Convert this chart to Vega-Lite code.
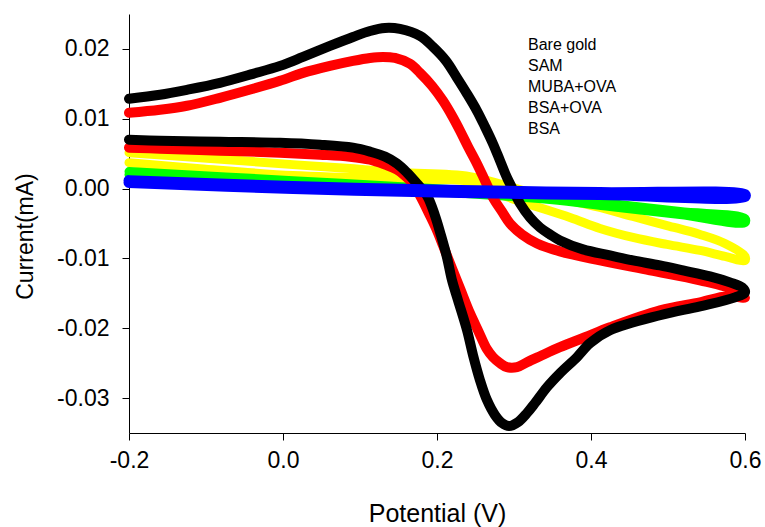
{
  "$schema": "https://vega.github.io/schema/vega-lite/v6.json",
  "width": 616,
  "height": 419,
  "autosize": {"type": "none"},
  "padding": {"left": 129, "top": 14, "right": 20, "bottom": 94},
  "background": "white",
  "config": {
    "view": {"stroke": null},
    "font": "Liberation Sans",
    "locale": {"number": {"decimal": ".", "thousands": ",", "grouping": [3], "currency": ["$", ""], "minus": "-"}},
    "axis": {
      "grid": false,
      "domainColor": "#000000",
      "domainWidth": 1,
      "tickColor": "#000000",
      "tickWidth": 1,
      "tickSize": 7,
      "labelColor": "#000000",
      "labelFontSize": 23,
      "labelFlush": false,
      "labelOverlap": false,
      "titleColor": "#000000",
      "titleFontSize": 23,
      "titleFontWeight": "normal"
    }
  },
  "data": {
    "values": [
      {"S": "Bare gold", "k": 0, "V": -0.2, "I": 0.01286},
      {"S": "Bare gold", "k": 1, "V": -0.1597, "I": 0.01343},
      {"S": "Bare gold", "k": 2, "V": -0.1247, "I": 0.01414},
      {"S": "Bare gold", "k": 3, "V": -0.0818, "I": 0.01514},
      {"S": "Bare gold", "k": 4, "V": -0.039, "I": 0.01643},
      {"S": "Bare gold", "k": 5, "V": -0.0039, "I": 0.01757},
      {"S": "Bare gold", "k": 6, "V": 0.026, "I": 0.01886},
      {"S": "Bare gold", "k": 7, "V": 0.061, "I": 0.02043},
      {"S": "Bare gold", "k": 8, "V": 0.0909, "I": 0.02171},
      {"S": "Bare gold", "k": 9, "V": 0.113, "I": 0.02257},
      {"S": "Bare gold", "k": 10, "V": 0.1325, "I": 0.023},
      {"S": "Bare gold", "k": 11, "V": 0.1519, "I": 0.02286},
      {"S": "Bare gold", "k": 12, "V": 0.1779, "I": 0.02186},
      {"S": "Bare gold", "k": 13, "V": 0.1948, "I": 0.02029},
      {"S": "Bare gold", "k": 14, "V": 0.2117, "I": 0.01829},
      {"S": "Bare gold", "k": 15, "V": 0.226, "I": 0.01586},
      {"S": "Bare gold", "k": 16, "V": 0.239, "I": 0.01357},
      {"S": "Bare gold", "k": 17, "V": 0.2519, "I": 0.01114},
      {"S": "Bare gold", "k": 18, "V": 0.2623, "I": 0.00886},
      {"S": "Bare gold", "k": 19, "V": 0.2727, "I": 0.00643},
      {"S": "Bare gold", "k": 20, "V": 0.2818, "I": 0.004},
      {"S": "Bare gold", "k": 21, "V": 0.2909, "I": 0.00157},
      {"S": "Bare gold", "k": 22, "V": 0.3, "I": -0.00043},
      {"S": "Bare gold", "k": 23, "V": 0.3078, "I": -0.00214},
      {"S": "Bare gold", "k": 24, "V": 0.3208, "I": -0.00414},
      {"S": "Bare gold", "k": 25, "V": 0.3338, "I": -0.00557},
      {"S": "Bare gold", "k": 26, "V": 0.3468, "I": -0.00657},
      {"S": "Bare gold", "k": 27, "V": 0.3597, "I": -0.00743},
      {"S": "Bare gold", "k": 28, "V": 0.3896, "I": -0.00871},
      {"S": "Bare gold", "k": 29, "V": 0.4247, "I": -0.00957},
      {"S": "Bare gold", "k": 30, "V": 0.4545, "I": -0.01029},
      {"S": "Bare gold", "k": 31, "V": 0.4896, "I": -0.011},
      {"S": "Bare gold", "k": 32, "V": 0.5195, "I": -0.01171},
      {"S": "Bare gold", "k": 33, "V": 0.5545, "I": -0.01257},
      {"S": "Bare gold", "k": 34, "V": 0.5805, "I": -0.01343},
      {"S": "Bare gold", "k": 35, "V": 0.5961, "I": -0.01414},
      {"S": "Bare gold", "k": 36, "V": 0.6, "I": -0.01486},
      {"S": "Bare gold", "k": 37, "V": 0.587, "I": -0.01557},
      {"S": "Bare gold", "k": 38, "V": 0.5416, "I": -0.01686},
      {"S": "Bare gold", "k": 39, "V": 0.4896, "I": -0.01814},
      {"S": "Bare gold", "k": 40, "V": 0.4247, "I": -0.02029},
      {"S": "Bare gold", "k": 41, "V": 0.3987, "I": -0.02214},
      {"S": "Bare gold", "k": 42, "V": 0.3818, "I": -0.02414},
      {"S": "Bare gold", "k": 43, "V": 0.3597, "I": -0.02643},
      {"S": "Bare gold", "k": 44, "V": 0.3429, "I": -0.02843},
      {"S": "Bare gold", "k": 45, "V": 0.3273, "I": -0.03071},
      {"S": "Bare gold", "k": 46, "V": 0.3169, "I": -0.03214},
      {"S": "Bare gold", "k": 47, "V": 0.3052, "I": -0.03343},
      {"S": "Bare gold", "k": 48, "V": 0.2935, "I": -0.034},
      {"S": "Bare gold", "k": 49, "V": 0.2844, "I": -0.03357},
      {"S": "Bare gold", "k": 50, "V": 0.2753, "I": -0.03243},
      {"S": "Bare gold", "k": 51, "V": 0.2649, "I": -0.03029},
      {"S": "Bare gold", "k": 52, "V": 0.2558, "I": -0.02743},
      {"S": "Bare gold", "k": 53, "V": 0.2468, "I": -0.02386},
      {"S": "Bare gold", "k": 54, "V": 0.239, "I": -0.02029},
      {"S": "Bare gold", "k": 55, "V": 0.2273, "I": -0.016},
      {"S": "Bare gold", "k": 56, "V": 0.2195, "I": -0.01314},
      {"S": "Bare gold", "k": 57, "V": 0.213, "I": -0.00986},
      {"S": "Bare gold", "k": 58, "V": 0.2052, "I": -0.00671},
      {"S": "Bare gold", "k": 59, "V": 0.1974, "I": -0.00386},
      {"S": "Bare gold", "k": 60, "V": 0.187, "I": -0.001},
      {"S": "Bare gold", "k": 61, "V": 0.174, "I": 0.00071},
      {"S": "Bare gold", "k": 62, "V": 0.161, "I": 0.00229},
      {"S": "Bare gold", "k": 63, "V": 0.1481, "I": 0.00357},
      {"S": "Bare gold", "k": 64, "V": 0.1325, "I": 0.00457},
      {"S": "Bare gold", "k": 65, "V": 0.113, "I": 0.00529},
      {"S": "Bare gold", "k": 66, "V": 0.0909, "I": 0.00586},
      {"S": "Bare gold", "k": 67, "V": 0.0481, "I": 0.00629},
      {"S": "Bare gold", "k": 68, "V": -0.0039, "I": 0.00657},
      {"S": "Bare gold", "k": 69, "V": -0.0818, "I": 0.00671},
      {"S": "Bare gold", "k": 70, "V": -0.1597, "I": 0.00686},
      {"S": "Bare gold", "k": 71, "V": -0.2, "I": 0.007},

      {"S": "SAM", "k": 0, "V": -0.2, "I": 0.01086},
      {"S": "SAM", "k": 1, "V": -0.1597, "I": 0.01129},
      {"S": "SAM", "k": 2, "V": -0.1247, "I": 0.01186},
      {"S": "SAM", "k": 3, "V": -0.0818, "I": 0.013},
      {"S": "SAM", "k": 4, "V": -0.039, "I": 0.01429},
      {"S": "SAM", "k": 5, "V": -0.0039, "I": 0.01543},
      {"S": "SAM", "k": 6, "V": 0.026, "I": 0.01657},
      {"S": "SAM", "k": 7, "V": 0.061, "I": 0.01757},
      {"S": "SAM", "k": 8, "V": 0.0909, "I": 0.01829},
      {"S": "SAM", "k": 9, "V": 0.113, "I": 0.01871},
      {"S": "SAM", "k": 10, "V": 0.1299, "I": 0.01886},
      {"S": "SAM", "k": 11, "V": 0.1455, "I": 0.01871},
      {"S": "SAM", "k": 12, "V": 0.1649, "I": 0.01786},
      {"S": "SAM", "k": 13, "V": 0.1779, "I": 0.01657},
      {"S": "SAM", "k": 14, "V": 0.1935, "I": 0.01471},
      {"S": "SAM", "k": 15, "V": 0.2078, "I": 0.01257},
      {"S": "SAM", "k": 16, "V": 0.2195, "I": 0.01043},
      {"S": "SAM", "k": 17, "V": 0.2299, "I": 0.00829},
      {"S": "SAM", "k": 18, "V": 0.2403, "I": 0.006},
      {"S": "SAM", "k": 19, "V": 0.2519, "I": 0.00357},
      {"S": "SAM", "k": 20, "V": 0.2623, "I": 0.00114},
      {"S": "SAM", "k": 21, "V": 0.2727, "I": -0.00129},
      {"S": "SAM", "k": 22, "V": 0.2844, "I": -0.00329},
      {"S": "SAM", "k": 23, "V": 0.2948, "I": -0.005},
      {"S": "SAM", "k": 24, "V": 0.3104, "I": -0.00657},
      {"S": "SAM", "k": 25, "V": 0.3299, "I": -0.00786},
      {"S": "SAM", "k": 26, "V": 0.3597, "I": -0.009},
      {"S": "SAM", "k": 27, "V": 0.4117, "I": -0.01029},
      {"S": "SAM", "k": 28, "V": 0.4766, "I": -0.01171},
      {"S": "SAM", "k": 29, "V": 0.5416, "I": -0.01314},
      {"S": "SAM", "k": 30, "V": 0.5844, "I": -0.01443},
      {"S": "SAM", "k": 31, "V": 0.6, "I": -0.01557},
      {"S": "SAM", "k": 32, "V": 0.5766, "I": -0.01543},
      {"S": "SAM", "k": 33, "V": 0.5416, "I": -0.01629},
      {"S": "SAM", "k": 34, "V": 0.4896, "I": -0.01743},
      {"S": "SAM", "k": 35, "V": 0.4247, "I": -0.01986},
      {"S": "SAM", "k": 36, "V": 0.3922, "I": -0.02129},
      {"S": "SAM", "k": 37, "V": 0.3597, "I": -0.02271},
      {"S": "SAM", "k": 38, "V": 0.3338, "I": -0.024},
      {"S": "SAM", "k": 39, "V": 0.3169, "I": -0.02486},
      {"S": "SAM", "k": 40, "V": 0.3039, "I": -0.02557},
      {"S": "SAM", "k": 41, "V": 0.2909, "I": -0.02557},
      {"S": "SAM", "k": 42, "V": 0.2818, "I": -0.025},
      {"S": "SAM", "k": 43, "V": 0.2727, "I": -0.02414},
      {"S": "SAM", "k": 44, "V": 0.2649, "I": -0.023},
      {"S": "SAM", "k": 45, "V": 0.2532, "I": -0.02029},
      {"S": "SAM", "k": 46, "V": 0.2429, "I": -0.01786},
      {"S": "SAM", "k": 47, "V": 0.2299, "I": -0.01429},
      {"S": "SAM", "k": 48, "V": 0.2169, "I": -0.01071},
      {"S": "SAM", "k": 49, "V": 0.2078, "I": -0.00814},
      {"S": "SAM", "k": 50, "V": 0.2, "I": -0.006},
      {"S": "SAM", "k": 51, "V": 0.1909, "I": -0.00386},
      {"S": "SAM", "k": 52, "V": 0.1779, "I": -0.001},
      {"S": "SAM", "k": 53, "V": 0.1675, "I": 0.00086},
      {"S": "SAM", "k": 54, "V": 0.1584, "I": 0.00186},
      {"S": "SAM", "k": 55, "V": 0.1481, "I": 0.00271},
      {"S": "SAM", "k": 56, "V": 0.1325, "I": 0.00343},
      {"S": "SAM", "k": 57, "V": 0.113, "I": 0.00414},
      {"S": "SAM", "k": 58, "V": 0.087, "I": 0.00457},
      {"S": "SAM", "k": 59, "V": 0.0481, "I": 0.00486},
      {"S": "SAM", "k": 60, "V": -0.0039, "I": 0.00514},
      {"S": "SAM", "k": 61, "V": -0.0818, "I": 0.00543},
      {"S": "SAM", "k": 62, "V": -0.1597, "I": 0.00571},
      {"S": "SAM", "k": 63, "V": -0.2, "I": 0.00586},

      {"S": "MUBA+OVA", "k": 0, "V": -0.2, "I": 0.00514},
      {"S": "MUBA+OVA", "k": 1, "V": -0.1078, "I": 0.00443},
      {"S": "MUBA+OVA", "k": 2, "V": 0.013, "I": 0.00343},
      {"S": "MUBA+OVA", "k": 3, "V": 0.087, "I": 0.00286},
      {"S": "MUBA+OVA", "k": 4, "V": 0.1519, "I": 0.00229},
      {"S": "MUBA+OVA", "k": 5, "V": 0.2429, "I": 0.00171},
      {"S": "MUBA+OVA", "k": 6, "V": 0.3169, "I": -0.00043},
      {"S": "MUBA+OVA", "k": 7, "V": 0.3727, "I": -0.00171},
      {"S": "MUBA+OVA", "k": 8, "V": 0.4117, "I": -0.00271},
      {"S": "MUBA+OVA", "k": 9, "V": 0.4545, "I": -0.004},
      {"S": "MUBA+OVA", "k": 10, "V": 0.4987, "I": -0.00529},
      {"S": "MUBA+OVA", "k": 11, "V": 0.5416, "I": -0.00657},
      {"S": "MUBA+OVA", "k": 12, "V": 0.574, "I": -0.00786},
      {"S": "MUBA+OVA", "k": 13, "V": 0.6, "I": -0.00971},
      {"S": "MUBA+OVA", "k": 14, "V": 0.6, "I": -0.01029},
      {"S": "MUBA+OVA", "k": 15, "V": 0.574, "I": -0.00971},
      {"S": "MUBA+OVA", "k": 16, "V": 0.5416, "I": -0.00886},
      {"S": "MUBA+OVA", "k": 17, "V": 0.4987, "I": -0.008},
      {"S": "MUBA+OVA", "k": 18, "V": 0.4545, "I": -0.007},
      {"S": "MUBA+OVA", "k": 19, "V": 0.4117, "I": -0.00571},
      {"S": "MUBA+OVA", "k": 20, "V": 0.3727, "I": -0.00414},
      {"S": "MUBA+OVA", "k": 21, "V": 0.3169, "I": -0.00214},
      {"S": "MUBA+OVA", "k": 22, "V": 0.2688, "I": -0.00029},
      {"S": "MUBA+OVA", "k": 23, "V": 0.2429, "I": 0.001},
      {"S": "MUBA+OVA", "k": 24, "V": 0.1519, "I": 0.00129},
      {"S": "MUBA+OVA", "k": 25, "V": 0.087, "I": 0.00157},
      {"S": "MUBA+OVA", "k": 26, "V": 0.013, "I": 0.00186},
      {"S": "MUBA+OVA", "k": 27, "V": -0.1078, "I": 0.00286},
      {"S": "MUBA+OVA", "k": 28, "V": -0.2, "I": 0.00371},

      {"S": "BSA+OVA", "k": 0, "V": -0.2, "I": 0.00243},
      {"S": "BSA+OVA", "k": 1, "V": 0.013, "I": 0.00114},
      {"S": "BSA+OVA", "k": 2, "V": 0.2169, "I": -0.00014},
      {"S": "BSA+OVA", "k": 3, "V": 0.3468, "I": -0.00114},
      {"S": "BSA+OVA", "k": 4, "V": 0.4247, "I": -0.00214},
      {"S": "BSA+OVA", "k": 5, "V": 0.5156, "I": -0.00329},
      {"S": "BSA+OVA", "k": 6, "V": 0.6, "I": -0.00429},
      {"S": "BSA+OVA", "k": 7, "V": 0.6, "I": -0.00486},
      {"S": "BSA+OVA", "k": 8, "V": 0.5156, "I": -0.00371},
      {"S": "BSA+OVA", "k": 9, "V": 0.4247, "I": -0.00257},
      {"S": "BSA+OVA", "k": 10, "V": 0.3468, "I": -0.00157},
      {"S": "BSA+OVA", "k": 11, "V": 0.2169, "I": -0.00057},
      {"S": "BSA+OVA", "k": 12, "V": 0.013, "I": 0.00071},
      {"S": "BSA+OVA", "k": 13, "V": -0.2, "I": 0.002},

      {"S": "BSA", "k": 0, "V": -0.2, "I": 0.00114},
      {"S": "BSA", "k": 1, "V": 0.013, "I": 0.00029},
      {"S": "BSA", "k": 2, "V": 0.2299, "I": -0.00029},
      {"S": "BSA", "k": 3, "V": 0.4117, "I": -0.00057},
      {"S": "BSA", "k": 4, "V": 0.6, "I": -0.00086},
      {"S": "BSA", "k": 5, "V": 0.6, "I": -0.00114},
      {"S": "BSA", "k": 6, "V": 0.4117, "I": -0.00086},
      {"S": "BSA", "k": 7, "V": 0.2299, "I": -0.00057},
      {"S": "BSA", "k": 8, "V": 0.013, "I": 0},
      {"S": "BSA", "k": 9, "V": -0.2, "I": 0.00086}
    ]
  },
  "encoding": {
    "x": {
      "field": "V",
      "type": "quantitative",
      "scale": {"domain": [-0.2, 0.6], "nice": false, "zero": false},
      "axis": {
        "values": [-0.2, 0, 0.2, 0.4, 0.6],
        "format": ".1f",
        "title": "Potential (V)",
        "titleFontSize": 25,
        "labelPadding": 9,
        "titleX": 308,
        "titleY": 80,
        "titleAlign": "center",
        "titleBaseline": "middle"
      }
    },
    "y": {
      "field": "I",
      "type": "quantitative",
      "scale": {"domain": [-0.035, 0.025], "nice": false, "zero": false},
      "axis": {
        "values": [-0.03, -0.02, -0.01, 0, 0.01, 0.02],
        "format": ".2f",
        "title": "Current(mA)",
        "labelPadding": 13,
        "titleX": -104,
        "titleY": 222,
        "titleAlign": "center",
        "titleBaseline": "middle",
        "titleAngle": -90
      }
    },
    "color": {
      "field": "S",
      "type": "nominal",
      "scale": {
        "domain": ["Bare gold", "SAM", "MUBA+OVA", "BSA+OVA", "BSA"],
        "range": ["#000000", "#ff0000", "#ffff00", "#00ff00", "#0000ff"]
      },
      "legend": {
        "orient": "none",
        "legendX": 383,
        "legendY": 23,
        "title": null,
        "padding": 0,
        "symbolType": "circle",
        "symbolSize": 0,
        "symbolOpacity": 0,
        "symbolStrokeWidth": 0,
        "labelOffset": 0,
        "labelFontSize": 16,
        "labelColor": "#000000",
        "rowPadding": 5
      }
    },
    "order": {"field": "k", "type": "quantitative"}
  },
  "layer": [
    {"transform": [{"filter": "datum.S === 'MUBA+OVA'"}], "mark": {"type": "line", "strokeWidth": 9, "strokeCap": "round", "strokeJoin": "round", "interpolate": "catmull-rom"}},
    {"transform": [{"filter": "datum.S === 'BSA+OVA'"}], "mark": {"type": "line", "strokeWidth": 9, "strokeCap": "round", "strokeJoin": "round", "interpolate": "catmull-rom"}},
    {"transform": [{"filter": "datum.S === 'SAM'"}], "mark": {"type": "line", "strokeWidth": 10, "strokeCap": "round", "strokeJoin": "round", "interpolate": "catmull-rom"}},
    {"transform": [{"filter": "datum.S === 'Bare gold'"}], "mark": {"type": "line", "strokeWidth": 10, "strokeCap": "round", "strokeJoin": "round", "interpolate": "catmull-rom"}},
    {"transform": [{"filter": "datum.S === 'BSA'"}], "mark": {"type": "line", "strokeWidth": 11, "strokeCap": "round", "strokeJoin": "round", "interpolate": "catmull-rom"}}
  ]
}
